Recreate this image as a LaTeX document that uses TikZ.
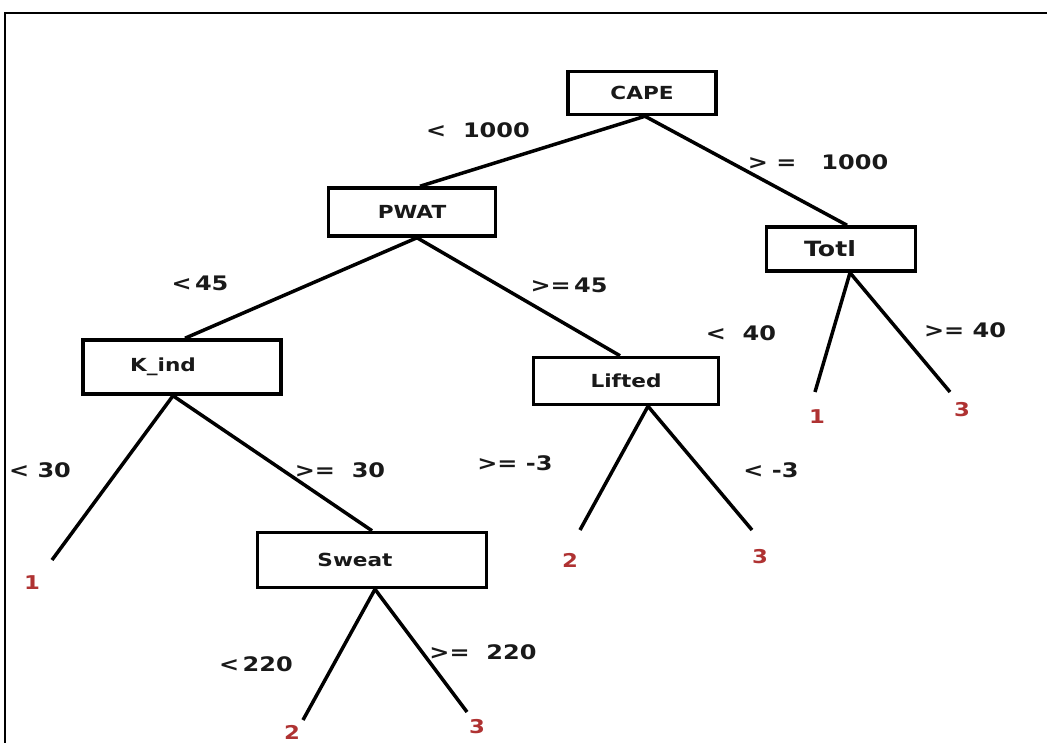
\documentclass[tikz,border=0pt]{standalone}
\usepackage{fontspec}
\setmainfont{DejaVu Sans}[FakeStretch=1.2]
\usetikzlibrary{calc}
\definecolor{leafred}{RGB}{175,50,50}
\definecolor{ink}{RGB}{25,25,25}
\begin{document}
\begin{tikzpicture}[x=1pt,y=-1pt,
  box/.style={draw=black,line width=3.5pt,inner sep=0pt,font=\bfseries\fontsize{18}{18}\selectfont,text=ink},
  edge/.style={line width=3.5pt,black},
  lbl/.style={font=\bfseries\fontsize{20}{20}\selectfont,text=ink,inner sep=0pt},
  leaf/.style={font=\bfseries\fontsize{19}{19}\selectfont,text=leafred,inner sep=0pt}]
\useasboundingbox[fill=white] (0,0) rectangle (1047,743);
\draw[line width=2.5pt] (5,743) -- (5,13) -- (1047,13);

% decision nodes
\node[box,minimum width=148pt,minimum height=43pt] (cape) at (642,93) {CAPE};
\node[box,minimum width=167pt,minimum height=48pt] (pwat) at (412,212) {PWAT};
\node[box,minimum width=149pt,minimum height=44pt,font=\bfseries\fontsize{21}{21}\selectfont] (totl) at (841,249) {Totl\hspace*{22pt}};
\node[box,minimum width=198pt,minimum height=54pt] (kind) at (182,367) {K\_ind\hspace*{38pt}};
\node[box,minimum width=185pt,minimum height=47pt] (lifted) at (626,381) {Lifted};
\node[box,minimum width=229pt,minimum height=55pt] (sweat) at (372,560) {Sweat\hspace*{34pt}};

% leaf end points
\coordinate (k1) at (52,560);
\coordinate (l2) at (580,530);
\coordinate (l3) at (752,530);
\coordinate (t1) at (815,392);
\coordinate (t3) at (950,392);
\coordinate (s2) at (303,720);
\coordinate (s3) at (467,712);

% connectors
\draw[edge] ([xshift=3pt]cape.south) -- ([xshift=8pt]pwat.north);
\draw[edge] ([xshift=3pt]cape.south) -- ([xshift=6pt]totl.north);
\draw[edge] ([xshift=5pt]pwat.south) -- ([xshift=3pt]kind.north);
\draw[edge] ([xshift=5pt]pwat.south) -- ([xshift=-6pt]lifted.north);
\draw[edge] ([xshift=-9pt]kind.south) -- (k1);
\draw[edge] ([xshift=-9pt]kind.south) -- (sweat.north);
\draw[edge] ([xshift=22pt]lifted.south) -- (l2);
\draw[edge] ([xshift=22pt]lifted.south) -- (l3);
\draw[edge] ([xshift=9pt]totl.south) -- (t1);
\draw[edge] ([xshift=9pt]totl.south) -- (t3);
\draw[edge] ([xshift=3pt]sweat.south) -- (s2);
\draw[edge] ([xshift=3pt]sweat.south) -- (s3);

% leaf labels
\node[leaf] (lk1) at (32,583) {1};
\node[leaf] (ll2) at (570,560) {2};
\node[leaf] (ll3) at (760,557) {3};
\node[leaf] (lt1) at (817,417) {1};
\node[leaf] (lt3) at (962,410) {3};
\node[leaf] (ls2) at (292,732) {2};
\node[leaf] (ls3) at (477,727) {3};

% edge labels
\node[lbl] (e1) at (478,130) {<\ \ 1000};
\node[lbl] (e2) at (818,162) {> =\ \ \ 1000};
\node[lbl] (e3) at (200,283) {<\,45};
\node[lbl] (e4) at (569,285) {>=\,45};
\node[lbl] (e5) at (741,333) {<\ \ 40};
\node[lbl] (e6) at (965,330) {>= 40};
\node[lbl] (e7) at (40,470) {< 30};
\node[lbl] (e8) at (340,470) {>=\ \ 30};
\node[lbl] (e9) at (515,463) {>= -3};
\node[lbl] (e10) at (771,470) {< -3};
\node[lbl] (e11) at (256,664) {<\,220};
\node[lbl] (e12) at (483,652) {>=\ \ 220};
\end{tikzpicture}
\end{document}
